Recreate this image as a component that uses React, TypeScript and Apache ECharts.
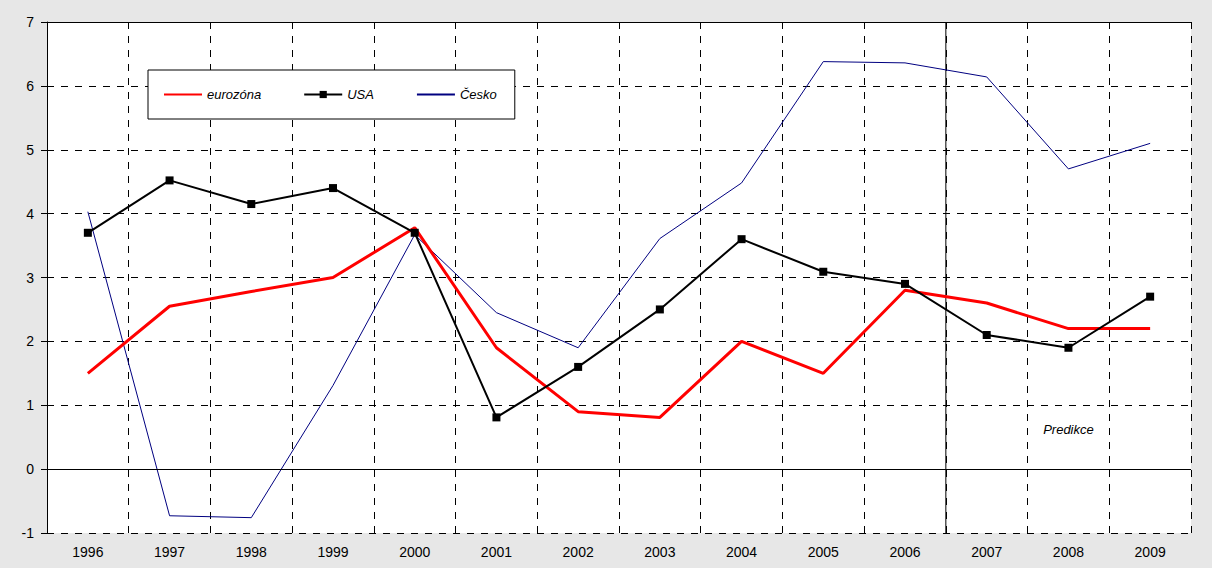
import React, { useEffect, useRef } from "react";
import * as echarts from "echarts";

const years = ["1996", "1997", "1998", "1999", "2000", "2001", "2002", "2003", "2004", "2005", "2006", "2007", "2008", "2009"];
const eurozona = [1.5, 2.55, 2.78, 3.0, 3.78, 1.9, 0.9, 0.81, 2.0, 1.5, 2.8, 2.6, 2.2, 2.2];
const usa = [3.7, 4.52, 4.15, 4.4, 3.7, 0.81, 1.6, 2.5, 3.6, 3.09, 2.9, 2.1, 1.9, 2.7];
const cesko = [4.03, -0.73, -0.76, 1.31, 3.67, 2.45, 1.9, 3.61, 4.48, 6.38, 6.36, 6.14, 4.7, 5.1];
const predictionBoundary = 11; // boundary between 2006 and 2007 (category index)
const predictionLabel = "Predikce";
const yMin = -1;
const yMax = 7;

export default function App() {
  const ref = useRef<HTMLDivElement>(null);
  useEffect(() => {
    if (!ref.current) return;
    const chart = echarts.init(ref.current, null, { renderer: "svg" });
    const font = "'Liberation Sans', Arial, sans-serif";
    const hidden = { color: "rgba(0,0,0,0)", borderWidth: 0, borderColor: "rgba(0,0,0,0)" };
    chart.setOption({
      animation: false,
      backgroundColor: "#e7e7e7",
      textStyle: { fontFamily: font },
      grid: {
        left: 47,
        right: 21,
        top: 22,
        bottom: 35,
        show: true,
        backgroundColor: "#ffffff",
        borderWidth: 0,
      },
      legend: {
        left: 148,
        top: 70,
        orient: "horizontal",
        backgroundColor: "#ffffff",
        borderColor: "#000000",
        borderWidth: 1,
        borderRadius: 0,
        padding: [18, 18, 18, 15],
        itemWidth: 38,
        itemHeight: 9,
        itemGap: 42,
        data: [
          { name: "eurozóna", itemStyle: hidden },
          { name: "USA" },
          { name: "Česko", itemStyle: hidden },
        ],
        textStyle: { fontFamily: font, fontStyle: "italic", fontSize: 13, color: "#000" },
      },
      xAxis: [
        {
          type: "category",
          data: years,
          boundaryGap: true,
          axisLine: { show: false },
          axisTick: { show: false },
          axisLabel: { color: "#000", fontSize: 14, fontFamily: font, margin: 12 },
          splitLine: { show: true, lineStyle: { color: "#000", type: [7, 7], width: 1 } },
        },
        {
          type: "value",
          min: 0,
          max: years.length,
          show: false,
        },
      ],
      yAxis: {
        type: "value",
        min: yMin,
        max: yMax,
        interval: 1,
        axisLine: { show: true, onZero: false, lineStyle: { color: "#000", width: 1 } },
        axisTick: { show: true, length: 6, lineStyle: { color: "#000" } },
        axisLabel: { color: "#000", fontSize: 14, fontFamily: font, margin: 13 },
        splitLine: { show: true, lineStyle: { color: "#000", type: [7, 7], width: 1 } },
      },
      series: [
        {
          name: "Česko",
          type: "line",
          data: cesko,
          symbol: "none",
          lineStyle: { color: "#000080", width: 1 },
          itemStyle: { color: "#000080" },
          z: 3,
        },
        {
          name: "eurozóna",
          type: "line",
          data: eurozona,
          symbol: "none",
          lineStyle: { color: "#ff0000", width: 3 },
          itemStyle: { color: "#ff0000" },
          z: 4,
          markPoint: {
            symbol: "circle",
            symbolSize: 0,
            data: [{ coord: ["2008", 0.62], value: predictionLabel }],
            label: {
              show: true,
              position: "inside",
              formatter: predictionLabel,
              fontStyle: "italic",
              fontSize: 13,
              fontFamily: font,
              color: "#000",
            },
          },
        },
        {
          name: "USA",
          type: "line",
          data: usa,
          symbol: "rect",
          symbolSize: 8,
          showSymbol: true,
          lineStyle: { color: "#000000", width: 2 },
          itemStyle: { color: "#000000" },
          z: 5,
          markLine: {
            silent: true,
            symbol: "none",
            label: { show: false },
            lineStyle: { color: "#000", type: "solid", width: 1 },
            data: [{ yAxis: 0 }, { yAxis: yMax }],
          },
        },
        {
          name: "predictionLine",
          type: "line",
          xAxisIndex: 1,
          data: [
            [predictionBoundary, yMin],
            [predictionBoundary, yMax],
          ],
          symbol: "none",
          lineStyle: { color: "#000", width: 1 },
          silent: true,
          z: 2,
        },
      ],
    });
    return () => chart.dispose();
  }, []);
  return (
    <div
      ref={ref}
      style={{ position: "absolute", left: 0, top: 0, width: 1212, height: 568 }}
    />
  );
}
